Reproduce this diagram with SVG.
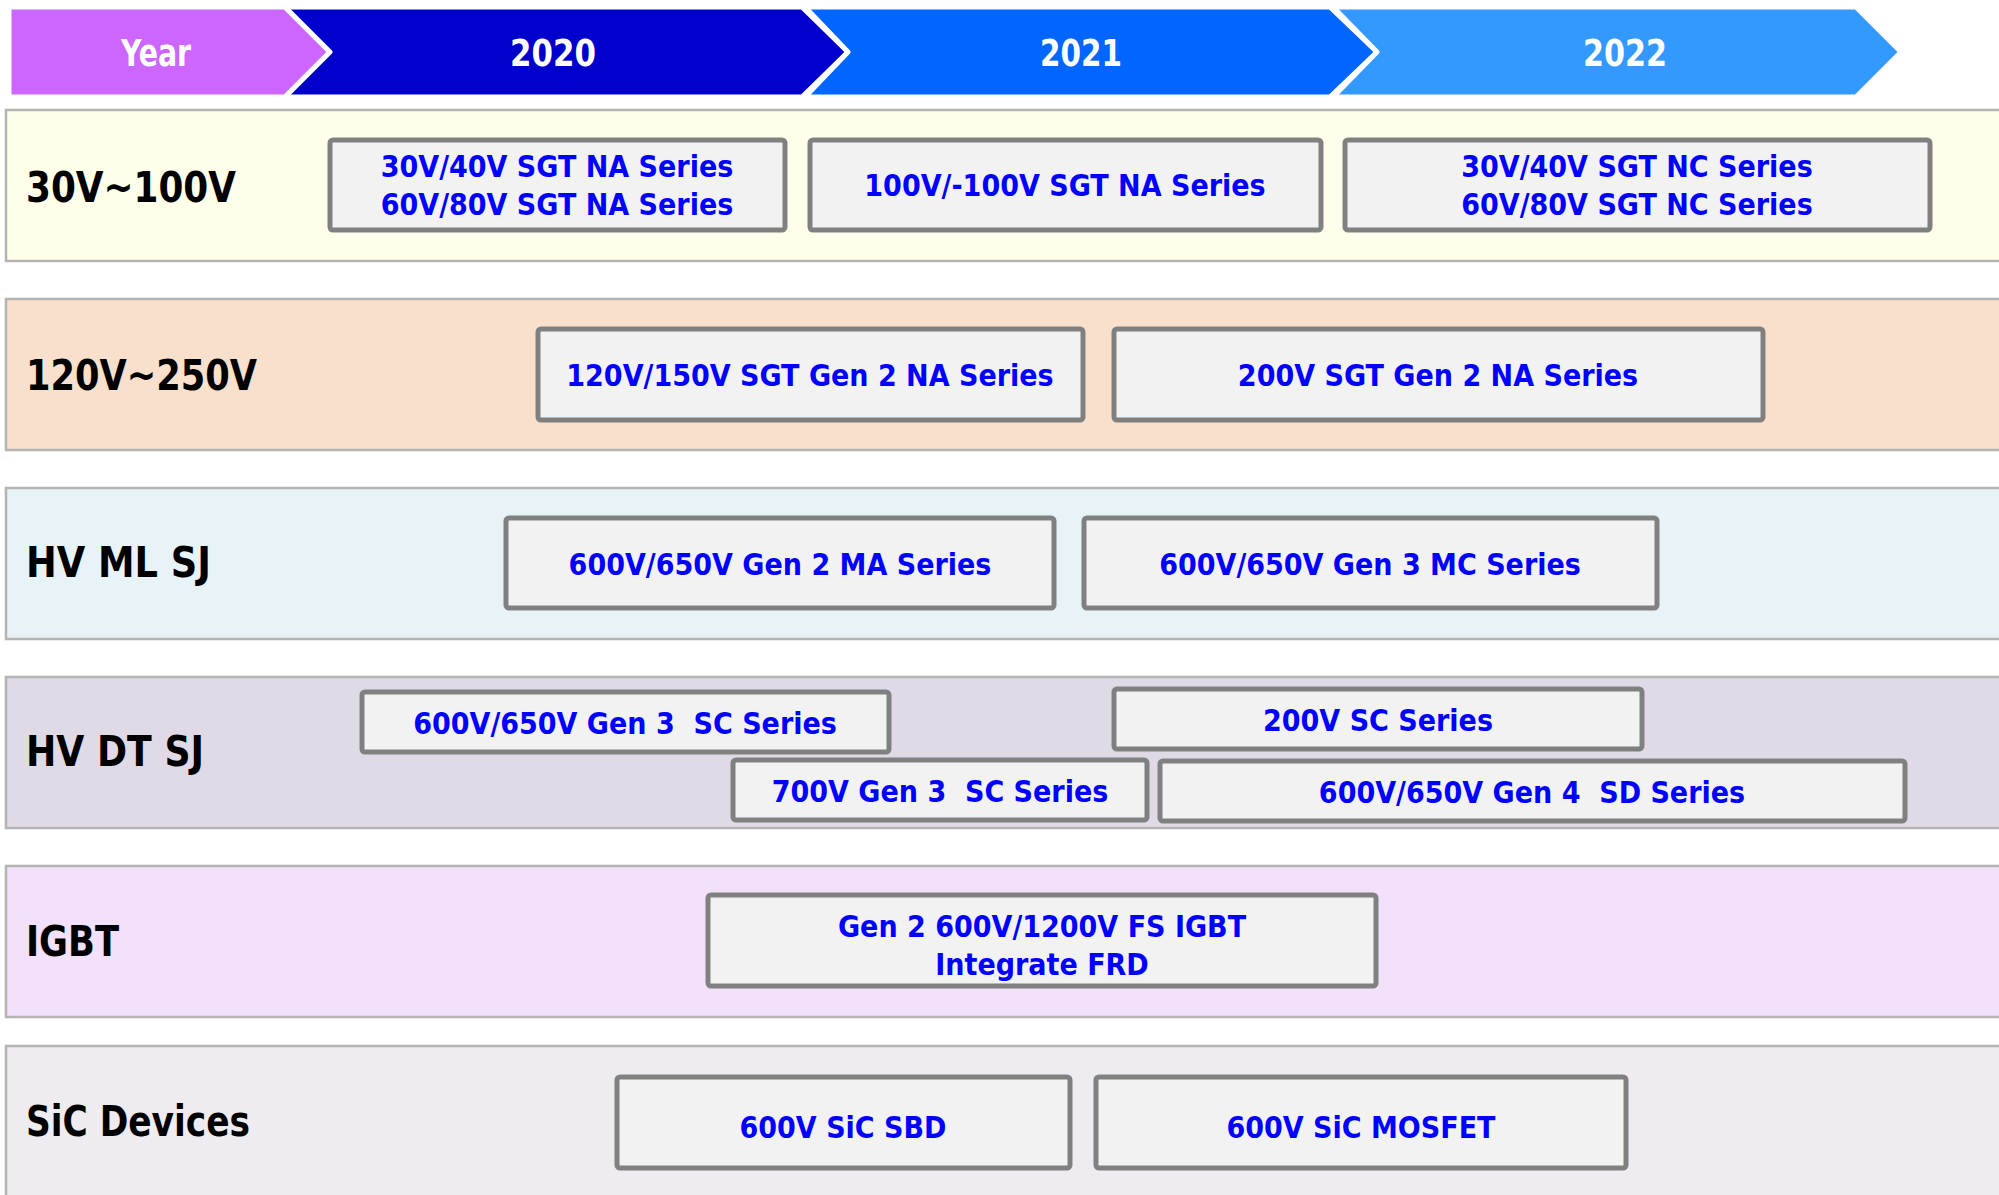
<svg xmlns="http://www.w3.org/2000/svg" width="1999" height="1195" viewBox="0 0 1999 1195">
<style>
text{font-family:'DejaVu Sans Condensed','DejaVu Sans',sans-serif;font-stretch:condensed;font-weight:bold}
.hdr{fill:#fff;font-size:37px;text-anchor:middle}
.chev{stroke:#fff;stroke-width:5;stroke-linejoin:round}
.band{stroke:#b4b4b4;stroke-width:2.5}
.lbl{fill:#000;font-size:42px}
.box rect{fill:#f2f2f2;stroke:#808080;stroke-width:5}
.box text{fill:#0000ff;font-size:30px;text-anchor:middle}
</style>
<rect width="1999" height="1195" fill="#fff"/>
<g id="timeline">
<g id="year-year"><polygon class="chev" fill="#cc66ff" points="9,7 285,7 330,52 285,97 9,97"/><text class="hdr" x="156" y="66" textLength="70" lengthAdjust="spacingAndGlyphs">Year</text></g>
<g id="year-2020"><polygon class="chev" fill="#0000cc" points="285,7 802,7 848,52 802,97 285,97 330,52"/><text class="hdr" x="553" y="66" textLength="86" lengthAdjust="spacingAndGlyphs">2020</text></g>
<g id="year-2021"><polygon class="chev" fill="#0066ff" points="805,7 1330,7 1377,52 1330,97 805,97 848,52"/><text class="hdr" x="1081" y="66" textLength="82" lengthAdjust="spacingAndGlyphs">2021</text></g>
<g id="year-2022"><polygon class="chev" fill="#3399ff" points="1333,7 1856,7 1901,52 1856,97 1333,97 1377,52"/><text class="hdr" x="1625" y="66" textLength="84" lengthAdjust="spacingAndGlyphs">2022</text></g>
</g>
<g id="bands">
<g id="row-30-100"><rect class="band" x="6" y="110" width="2010" height="151" fill="#ffffea"/><text class="lbl" x="26" y="202" textLength="210" lengthAdjust="spacingAndGlyphs">30V~100V</text></g>
<g id="row-120-250"><rect class="band" x="6" y="299" width="2010" height="151" fill="#f9e0cd"/><text class="lbl" x="26" y="390" textLength="231" lengthAdjust="spacingAndGlyphs">120V~250V</text></g>
<g id="row-hv-ml-sj"><rect class="band" x="6" y="488" width="2010" height="151" fill="#e8f3f8"/><text class="lbl" x="26" y="577" textLength="185" lengthAdjust="spacingAndGlyphs">HV ML SJ</text></g>
<g id="row-hv-dt-sj"><rect class="band" x="6" y="677" width="2010" height="151" fill="#e0dae6"/><text class="lbl" x="26" y="766" textLength="178" lengthAdjust="spacingAndGlyphs">HV DT SJ</text></g>
<g id="row-igbt"><rect class="band" x="6" y="866" width="2010" height="151" fill="#f3e1fc"/><text class="lbl" x="26" y="956" textLength="93" lengthAdjust="spacingAndGlyphs">IGBT</text></g>
<g id="row-sic"><rect class="band" x="6" y="1046" width="2010" height="200" fill="#eeebf1"/><text class="lbl" x="26" y="1136" textLength="224" lengthAdjust="spacingAndGlyphs">SiC Devices</text></g>
</g>
<g id="nodes">
<g id="n-sgt-na" class="box"><rect x="330" y="140" width="455" height="90" rx="3"/><text x="557" y="177">30V/40V SGT NA Series</text><text x="557" y="215">60V/80V SGT NA Series</text></g>
<g id="n-100v-na" class="box"><rect x="810" y="140" width="511" height="90" rx="3"/><text x="1065" y="196">100V/-100V SGT NA Series</text></g>
<g id="n-sgt-nc" class="box"><rect x="1345" y="140" width="585" height="90" rx="3"/><text x="1637" y="177">30V/40V SGT NC Series</text><text x="1637" y="215">60V/80V SGT NC Series</text></g>
<g id="n-120-150" class="box"><rect x="538" y="329" width="545" height="91" rx="3"/><text x="810" y="386">120V/150V SGT Gen 2 NA Series</text></g>
<g id="n-200-sgt" class="box"><rect x="1114" y="329" width="649" height="91" rx="3"/><text x="1438" y="386">200V SGT Gen 2 NA Series</text></g>
<g id="n-ma" class="box"><rect x="506" y="518" width="548" height="90" rx="3"/><text x="780" y="575">600V/650V Gen 2 MA Series</text></g>
<g id="n-mc" class="box"><rect x="1084" y="518" width="573" height="90" rx="3"/><text x="1370" y="575">600V/650V Gen 3 MC Series</text></g>
<g id="n-sc-600" class="box"><rect x="362" y="692" width="527" height="60" rx="3"/><text x="625" y="734" xml:space="preserve">600V/650V Gen 3  SC Series</text></g>
<g id="n-sc-200" class="box"><rect x="1114" y="689" width="528" height="60" rx="3"/><text x="1378" y="731">200V SC Series</text></g>
<g id="n-sc-700" class="box"><rect x="733" y="760" width="414" height="60" rx="3"/><text x="940" y="802" xml:space="preserve">700V Gen 3  SC Series</text></g>
<g id="n-sd" class="box"><rect x="1160" y="761" width="745" height="60" rx="3"/><text x="1532" y="803" xml:space="preserve">600V/650V Gen 4  SD Series</text></g>
<g id="n-igbt" class="box"><rect x="708" y="895" width="668" height="91" rx="3"/><text x="1042" y="937">Gen 2 600V/1200V FS IGBT</text><text x="1042" y="975">Integrate FRD</text></g>
<g id="n-sbd" class="box"><rect x="617" y="1077" width="453" height="91" rx="3"/><text x="843" y="1138">600V SiC SBD</text></g>
<g id="n-mosfet" class="box"><rect x="1096" y="1077" width="530" height="91" rx="3"/><text x="1361" y="1138">600V SiC MOSFET</text></g>
</g>
<g id="connectors"/>
</svg>
